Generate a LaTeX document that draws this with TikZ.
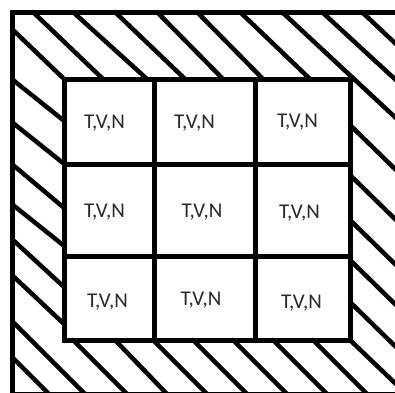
\documentclass[tikz,border=0pt]{standalone}
\usepackage{fontspec}
\setmainfont{Carlito}
\usepackage{xcolor}
\usepackage{tikz}
\definecolor{txtgray}{RGB}{40,40,40}

\tikzset{
  hatch/.style={line width=4.5pt,line cap=round},
  wall/.style={line width=5pt},
  cell/.style={font=\fontsize{21}{25}\selectfont,text=txtgray,anchor=base,inner sep=0pt}
}

\begin{document}
\begin{tikzpicture}[x=1pt,y=-1pt]
  \clip (0,0) rectangle (395,392);
  % hatching, top band
  \foreach \a/\b in {33/103,73/147,115/185,157/223,197/263,240/310}
    \draw[hatch] (\a,12) -- (\b,79);
  \draw[hatch] (282,12) -- (397,119);
  \draw[hatch] (322,12) -- (397,81);
  \draw[hatch] (362,12) -- (397,45);
  % left band
  \draw[hatch] (13,30) -- (63,78);
  \foreach \a/\b in {80/120,123/163,165/207,205/245,240/286,276/323}
    \draw[hatch] (13,\a) -- (63,\b);
  \draw[hatch] (13,322) -- (85,394);
  \draw[hatch] (13,358) -- (49,394);
  % bottom band
  \foreach \a/\b in {73/127,115/167,153/207,193/247,233/287,273/327,313/367}
    \draw[hatch] (\a,340) -- (\b,394);
  \draw[hatch] (350,340) -- (397,385);
  % right band
  \foreach \a in {125,175,220,260,302}
    \draw[hatch] (350,\a) -- (397,\a+46);
  % outer wall and inner grid
  \draw[wall] (12,12) rectangle (402,394);
  \draw[wall] (64,79) rectangle (350,340);
  \draw[wall] (154,79) -- (154,340);
  \draw[wall] (255,79) -- (255,340);
  \draw[wall] (64,164) -- (350,164);
  \draw[wall] (64,256) -- (350,256);
  % cell labels
  \node[cell] (tvn11) at (104.5,128) {T,V,N};
  \node[cell] (tvn12) at (194.5,128) {T,V,N};
  \node[cell] (tvn13) at (297.5,127) {T,V,N};
  \node[cell] (tvn21) at (104.5,217) {T,V,N};
  \node[cell] (tvn22) at (202,217) {T,V,N};
  \node[cell] (tvn23) at (299.5,218) {T,V,N};
  \node[cell] (tvn31) at (107.5,307) {T,V,N};
  \node[cell] (tvn32) at (201,305) {T,V,N};
  \node[cell] (tvn33) at (301.5,308) {T,V,N};
\end{tikzpicture}
\end{document}
